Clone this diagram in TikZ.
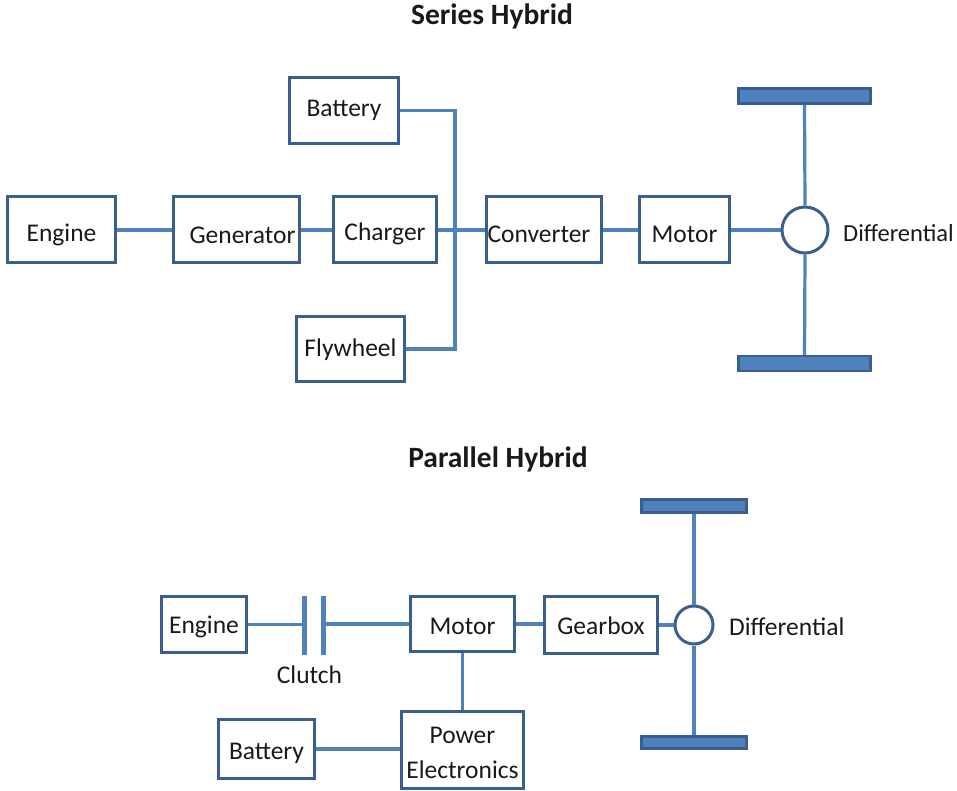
\documentclass[tikz,border=0pt]{standalone}
\usepackage{fontspec}
\setmainfont{Carlito}
\begin{document}
\definecolor{boxc}{HTML}{3A5F8E}
\definecolor{conc}{HTML}{4F81BD}
\begin{tikzpicture}[x=1pt,y=-1pt,
  font=\fontsize{25.5}{30}\selectfont,
  blk/.style={draw=boxc, line width=3pt, fill=white, inner sep=0pt, text=black!90,
    text depth=0pt, text height=#1},
  blk/.default=20pt,
  wire/.style={draw=conc, line width=3.2pt},
  wheel/.style={draw=boxc, line width=2.4pt, fill=conc, inner sep=0pt},
  diffc/.style={circle, draw=boxc, line width=3pt, fill=white, inner sep=0pt},
  plate/.style={fill=conc, inner sep=0pt, minimum width=5.5pt},
  lbl/.style={text=black!90, inner sep=0pt},
  ttl/.style={font=\fontsize{29.5}{34}\selectfont\bfseries, text=black!90, inner sep=0pt}]
\useasboundingbox (0,0) rectangle (957,791);

% ---------- Series hybrid ----------
\node[ttl, anchor=base] (t1) at (492,25) {Series Hybrid};

\node[blk=23.4pt, minimum width=108pt, minimum height=66pt] (eng) at (61.5,230) {Engine};
\node[blk=26.4pt, minimum width=126pt, minimum height=66pt] (gen) at (236.5,230) {\hspace*{12pt}Generator};
\node[blk=21.4pt, minimum width=103pt, minimum height=66pt] (chg) at (385,230) {Charger};
\node[blk=24.4pt, minimum width=115pt, minimum height=66pt] (conv) at (544,230) {Converter\hspace*{10pt}};
\node[blk=24.4pt, minimum width=90pt, minimum height=66pt] (mot) at (684.5,230) {Motor};
\node[blk=11.4pt, minimum width=109pt, minimum height=66pt] (bat) at (344,110.5) {Battery};
\node[blk=14.4pt, minimum width=108pt, minimum height=65pt] (fly) at (350.5,349) {Flywheel};

\coordinate (bustop) at (455,110.5);
\coordinate (busbot) at (455,349);

\node[wheel, minimum width=132pt, minimum height=15pt] (wt) at (804.5,96) {};
\node[wheel, minimum width=132pt, minimum height=15pt] (wb) at (804.5,363.5) {};
\node[diffc, minimum size=46pt] (dif) at (805,230) {};
\node[lbl, anchor=base west, font=\fontsize{24.5}{29}\selectfont] (difl) at (843,241.5) {Differential};

\draw[wire] (eng.east) -- (gen.west);
\draw[wire] (gen.east) -- (chg.west);
\draw[wire] (chg.east) -- (conv.west);
\draw[wire] (conv.east) -- (mot.west);
\draw[wire] (mot.east) -- (dif.west);
\draw[wire] (bat.east) -- (bustop) -- (busbot) -- (fly.east);
\draw[wire] (wt.south) -- (dif.north);
\draw[wire] (dif.south) -- (wb.north);

% ---------- Parallel hybrid ----------
\node[ttl, anchor=base] (t2) at (498,467) {Parallel Hybrid};

\node[blk=17.4pt, minimum width=85pt, minimum height=56pt] (peng) at (204,624.5) {Engine};
\node[plate, minimum height=59pt] (cl1) at (304.5,625.5) {};
\node[plate, minimum height=59pt] (cl2) at (323.5,625.5) {};
\node[lbl, anchor=base] (cll) at (309.5,683) {Clutch};
\node[blk=20.4pt, minimum width=104pt, minimum height=55pt] (pmot) at (462.5,624) {Motor};
\node[blk=18.4pt, minimum width=113pt, minimum height=57pt] (gbx) at (601,625) {Gearbox};
\node[blk, minimum width=122pt, minimum height=77pt, align=center,
  font=\fontsize{25.5}{35}\selectfont, text height=, text depth=] (pe) at (462.5,750)
  {\rule{0pt}{22pt}Power\\Electronics};
\node[blk=20.4pt, minimum width=96pt, minimum height=59pt] (pbat) at (266.5,749) {Battery};

\node[wheel, minimum width=105pt, minimum height=13pt] (pwt) at (694,506) {};
\node[wheel, minimum width=105pt, minimum height=12pt] (pwb) at (694,742.5) {};
\node[diffc, minimum size=38pt] (pdif) at (694,625) {};
\node[lbl, anchor=base west] (pdifl) at (729,635) {Differential};

\draw[wire] (peng.east) -- (peng.east -| cl1.west);
\draw[wire] (cl2.east |- pmot.west) -- (pmot.west);
\draw[wire] (pmot.east) -- (pmot.east -| gbx.west);
\draw[wire] (gbx.east) -- (gbx.east -| pdif.west);
\draw[wire] (pmot.south) -- (pmot.south |- pe.north);
\draw[wire] (pbat.east) -- (pbat.east -| pe.west);
\draw[wire] (pwt.south) -- (pdif.north);
\draw[wire] (pdif.south) -- (pwb.north);
\end{tikzpicture}
\end{document}
